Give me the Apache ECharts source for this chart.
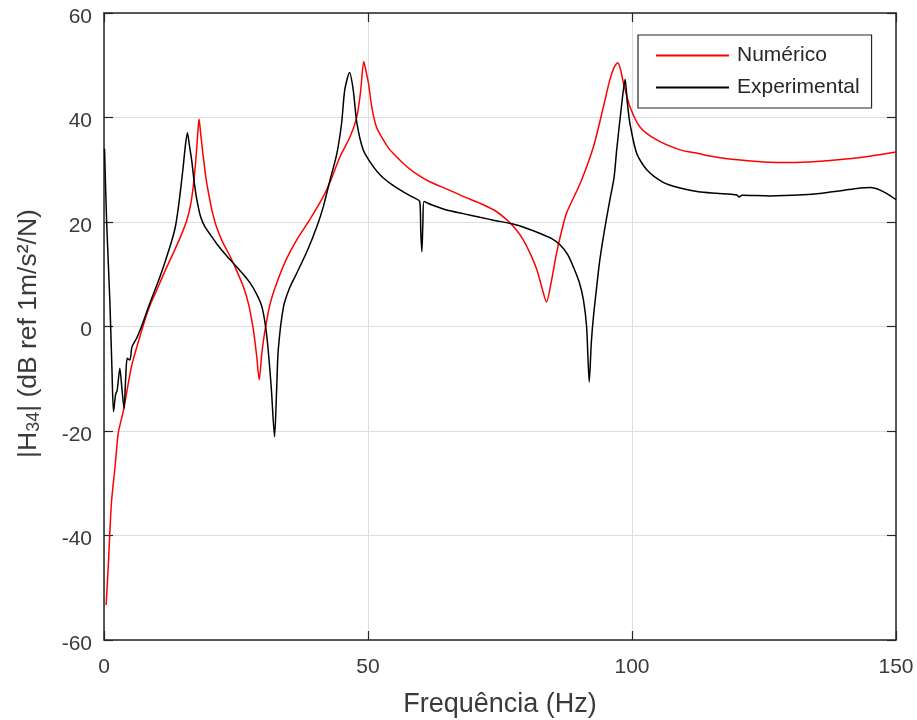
<!DOCTYPE html>
<html>
<head>
<meta charset="utf-8">
<script src="https://cdn.jsdelivr.net/npm/echarts@6/dist/echarts.min.js"></script>
<style>
  html, body { margin: 0; padding: 0; background: #ffffff; }
  #chart { width: 917px; height: 720px; }
</style>
</head>
<body>
<div id="chart"></div>
<script>
// Frequency response |H34| in dB: numerical model vs. measurement, [Hz, dB]
const numerico = [
  [0.4,-53.3],[0.8,-46],[1.1,-39.5],[1.45,-33.2],[2.1,-26.8],[2.7,-20.4],[3.7,-16],
  [5.2,-7.7],[7.1,-0.9],[8.5,3.5],[10,7],[11.5,10.5],[13.1,14],[14.5,17.2],[15.7,20.4],
  [16.4,23.3],[16.9,26.8],[17.4,32],[17.8,37.5],[18.0,39.7],[18.3,37],[18.8,32.5],
  [19.3,28.5],[19.8,25.5],[20.5,22],[21.3,19.1],[22.5,16.1],[23.9,13.4],[25.2,10.5],
  [26.4,7.6],[27.4,4.2],[28.3,-0.7],[28.9,-5.5],[29.4,-10.2],[29.9,-5],[30.5,-0.7],
  [31.5,4.5],[32.7,8.3],[34.5,12.8],[36.5,16.6],[39,20.5],[41.5,24.8],[42.8,27.6],
  [44.7,32.5],[46.6,36.3],[47.9,40.2],[48.6,45],[49.2,50.7],[49.6,49],[50.1,46.5],
  [50.7,42.1],[51.6,38.2],[52.9,35.7],[54,34],[55.4,32.5],[57,30.9],[58.6,29.6],
  [61.7,27.7],[65.2,26.2],[68,24.9],[71.2,23.6],[74,22.2],[76.3,20.4],[78,18.6],
  [79.4,16.6],[80.8,13.8],[82.0,10.8],[83.0,7.2],[83.8,4.7],[84.7,8.5],[85.7,14],
  [86.6,18],[87.6,21.7],[90.2,27.4],[92.7,34.4],[94.6,42.1],[95.8,47.2],[96.6,49.6],
  [97.3,50.5],[97.8,49.3],[98.4,46.5],[99.6,42.1],[101.5,38.2],[104.7,35.7],
  [109.1,33.8],[112.6,33.1],[115,32.6],[120,31.9],[125,31.5],[130,31.4],[135,31.6],
  [140,32],[145,32.6],[150,33.4]
];

const experimental = [
  [0.1,34],[0.5,20],[1.1,5.1],[1.5,-8],[1.8,-16.3],[2.2,-13],[2.5,-12.2],[3.0,-8],
  [3.4,-12],[3.8,-15.7],[4.1,-10],[4.4,-6.1],[4.9,-6.4],[5.3,-3.9],[6.2,-2.2],[7.1,0],
  [8.7,4.5],[10.6,9.5],[12.5,15.3],[13.5,19],[14.1,22.9],[14.6,27],[15.0,30.6],
  [15.4,34.5],[15.8,37.1],[16.2,34.5],[16.6,31.9],[17.1,27.5],[17.6,24.2],[18.3,21],
  [19.1,19.1],[20.2,17.5],[21.3,15.9],[23,13.8],[24.5,12.1],[26.2,10.2],[27.7,8.3],
  [29,6],[29.9,3.8],[30.6,0],[31.1,-4.5],[31.7,-12],[32.3,-21.1],[32.7,-12],[33.0,-4.5],
  [34.0,3.8],[35.2,7.5],[36.5,10.2],[38.5,14.5],[40.3,19.1],[41.5,22.8],[42.8,28],
  [44.1,33.1],[45.0,38.9],[45.6,45.3],[46.5,48.6],[47.2,45.3],[47.9,38.9],[49.1,33.8],
  [51.0,30.6],[52.5,28.8],[54.2,27.4],[56.3,26],[58.6,24.7],[59.8,23.9],[60.0,18],
  [60.2,14.3],[60.4,20],[60.6,23.9],[62,23.3],[64.9,22.3],[68,21.6],[71.2,20.9],
  [74,20.3],[77.5,19.6],[80,18.8],[82.6,17.8],[84.8,16.8],[86.4,15.6],[87.8,13.8],
  [88.9,11.4],[90,8.5],[90.8,5.1],[91.4,0],[91.9,-10.6],[92.3,-3],[92.7,1.9],
  [93.3,7.5],[93.9,12.7],[94.8,18.5],[95.8,24.2],[96.6,28.5],[97.1,33.8],[98.0,42.1],
  [98.7,47.3],[99.1,43],[99.6,38.9],[100.9,33.1],[102.8,30],[105.9,27.6],[109.1,26.5],
  [112.6,25.8],[116,25.5],[119.8,25.2],[120.3,24.8],[120.8,25.1],[126.1,25],
  [132.4,25.2],[136,25.5],[138.8,25.9],[141,26.2],[143.2,26.5],[145.1,26.6],
  [146.2,26.4],[147,26.1],[148.5,25.3],[150,24.3]
];

const seriesNames = ['Numérico', 'Experimental'];
const xRange = { min: 0, max: 150, interval: 50 };
const yRange = { min: -60, max: 60, interval: 20 };

const FONT = "'Liberation Sans', Arial, Helvetica, sans-serif";
const AXIS_COLOR = '#262626';
const LABEL_COLOR = '#3a3a3a';

const chart = echarts.init(document.getElementById('chart'));

// Mirror axis on the opposite side: frame line plus inward ticks, no labels
function frameAxis(pos, range) {
  return {
    type: 'value', position: pos, min: range.min, max: range.max, interval: range.interval,
    axisLine: { show: true, onZero: false, lineStyle: { color: AXIS_COLOR, width: 1.5 } },
    axisTick: { show: true, inside: true, length: 9, lineStyle: { color: AXIS_COLOR, width: 1.2 } },
    axisLabel: { show: false },
    splitLine: { show: false }
  };
}

chart.setOption({
  animation: false,
  backgroundColor: '#ffffff',
  grid: { left: 104, right: 21, top: 13, bottom: 80, containLabel: false, outerBoundsMode: 'none' },
  legend: {
    data: seriesNames,
    orient: 'vertical',
    left: 638, top: 35,
    padding: [10, 12, 10, 18],
    itemGap: 11,
    itemWidth: 73, itemHeight: 2,
    icon: 'rect',
    borderColor: AXIS_COLOR, borderWidth: 1.2,
    backgroundColor: '#ffffff',
    textStyle: { fontFamily: FONT, fontSize: 21, color: '#262626', lineHeight: 21, padding: [0, 0, 0, 3] }
  },
  xAxis: [
    {
      type: 'value', position: 'bottom',
      min: xRange.min, max: xRange.max, interval: xRange.interval,
      name: 'Frequência (Hz)', nameLocation: 'middle', nameGap: 51,
      nameTextStyle: { fontFamily: FONT, fontSize: 27, color: LABEL_COLOR },
      axisLine: { show: true, onZero: false, lineStyle: { color: AXIS_COLOR, width: 1.5 } },
      axisTick: { show: true, inside: true, length: 9, lineStyle: { color: AXIS_COLOR, width: 1.2 } },
      axisLabel: { margin: 17, fontFamily: FONT, fontSize: 21, color: LABEL_COLOR },
      splitLine: { show: true, lineStyle: { color: '#dedede', width: 1 } }
    },
    frameAxis('top', xRange)
  ],
  yAxis: [
    {
      type: 'value', position: 'left',
      min: yRange.min, max: yRange.max, interval: yRange.interval,
      name: '|H{sub|34}| (dB ref 1m/s²/N)', nameLocation: 'middle', nameGap: 61, nameRotate: 90,
      nameTextStyle: {
        fontFamily: FONT, fontSize: 26.5, color: LABEL_COLOR, padding: [0, 14, 0, 0],
        rich: { sub: { fontFamily: FONT, fontSize: 18, color: LABEL_COLOR, verticalAlign: 'bottom', padding: [11, 0, 0, 0] } }
      },
      axisLine: { show: true, onZero: false, lineStyle: { color: AXIS_COLOR, width: 1.5 } },
      axisTick: { show: true, inside: true, length: 9, lineStyle: { color: AXIS_COLOR, width: 1.2 } },
      axisLabel: {
        margin: 12, color: LABEL_COLOR,
        formatter: '{v|{value}}',
        rich: { v: { fontFamily: FONT, fontSize: 21, color: LABEL_COLOR, padding: [8, 0, 0, 0] } }
      },
      splitLine: { show: true, lineStyle: { color: '#dedede', width: 1 } }
    },
    frameAxis('right', yRange)
  ],
  series: [
    {
      name: seriesNames[0], type: 'line', data: numerico,
      xAxisIndex: 0, yAxisIndex: 0,
      symbol: 'none', smooth: 0.25,
      lineStyle: { color: '#ff0000', width: 1.5 },
      itemStyle: { color: '#ff0000' },
      z: 3
    },
    {
      name: seriesNames[1], type: 'line', data: experimental,
      xAxisIndex: 0, yAxisIndex: 0,
      symbol: 'none', smooth: 0.25,
      lineStyle: { color: '#000000', width: 1.5 },
      itemStyle: { color: '#000000' },
      z: 4
    }
  ]
});
</script>
</body>
</html>
